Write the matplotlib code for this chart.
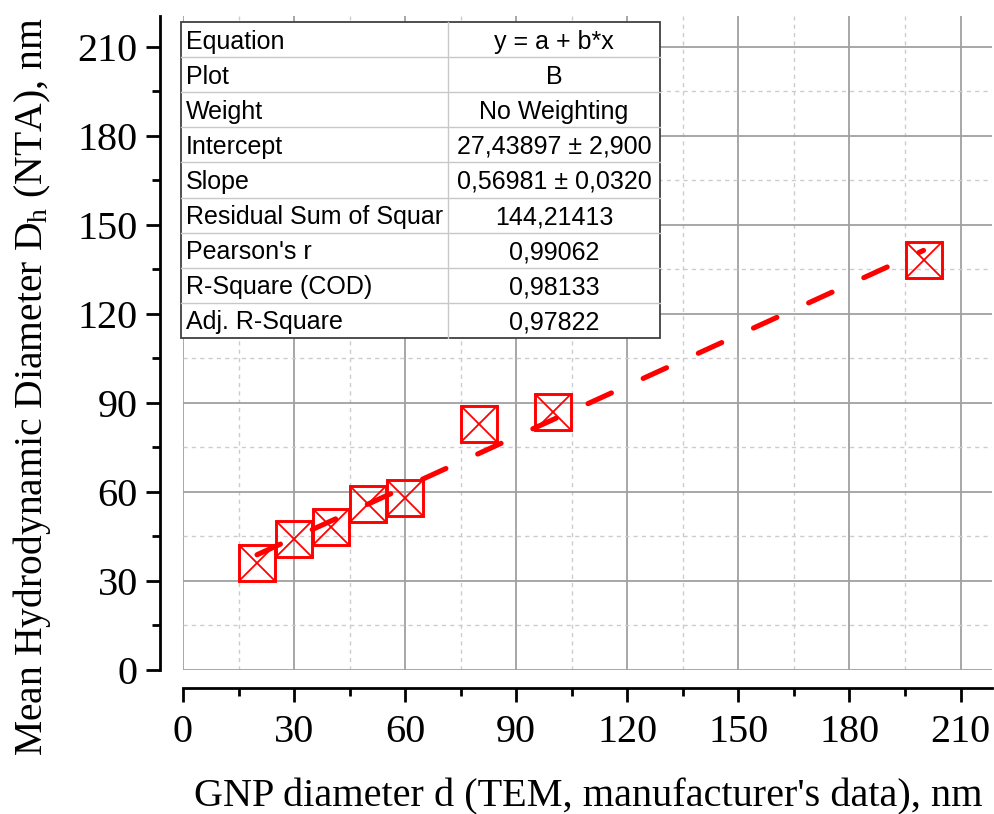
import numpy as np
import matplotlib
matplotlib.use("Agg")
import matplotlib.pyplot as plt
from matplotlib.patches import Rectangle
from matplotlib.ticker import MultipleLocator

# measured GNP sizes vs. NTA hydrodynamic diameter
tem_d = [20, 30, 40, 50, 60, 80, 100, 200]
nta_dh = [36.2, 44.2, 48.2, 56.0, 58.1, 83.0, 87.1, 138.2]

# linear fit results
intercept = 27.43897
slope = 0.56981

fit_rows = ["Equation", "Plot", "Weight", "Intercept", "Slope",
            "Residual Sum of Squar", "Pearson's r", "R-Square (COD)",
            "Adj. R-Square"]
fit_vals = ["y = a + b*x", "B", "No Weighting", "27,43897 \u00b1 2,900",
            "0,56981 \u00b1 0,0320", "144,21413", "0,99062", "0,98133",
            "0,97822"]

plt.rcParams['font.family'] = 'Liberation Serif'
plt.rcParams['mathtext.fontset'] = 'custom'
plt.rcParams['mathtext.rm'] = 'Liberation Serif'
plt.rcParams['mathtext.it'] = 'Liberation Serif:italic'

fig = plt.figure(figsize=(9.94, 8.14), dpi=100)
ax = fig.add_axes([183/994, 1-670/814, 809/994, 654/814])

ax.set_xlim(0, 218.5)
ax.set_ylim(0, 220.4)

# fit line over the data range
fx = np.array([min(tem_d), max(tem_d)])
line, = ax.plot(fx, intercept + slope*fx, color='#ff0000', lw=3.7,
                solid_capstyle='round', dash_capstyle='round', zorder=4)
line.set_dashes((5, 6.8))

ax.plot(tem_d, nta_dh, ls='none', marker='s', ms=25.5, mfc='none',
        mec='#ff0000', mew=2.1, zorder=3)
ax.plot(tem_d, nta_dh, ls='none', marker='x', ms=25.5,
        mec='#ff0000', mew=1.3, zorder=3)

ax.xaxis.set_major_locator(MultipleLocator(30))
ax.xaxis.set_minor_locator(MultipleLocator(15))
ax.yaxis.set_major_locator(MultipleLocator(30))
ax.yaxis.set_minor_locator(MultipleLocator(15))

ax.set_axisbelow(True)
ax.grid(which='major', color='#a0a0a0', lw=1.3, ls='-')
ax.grid(which='minor', color='#cccccc', lw=1.0, ls=(0, (3, 3)))

for s in ['top', 'right']:
    ax.spines[s].set_visible(False)
ax.spines['left'].set_position(('outward', 16.5))
ax.spines['bottom'].set_position(('outward', 13))
ax.spines['left'].set_linewidth(2)
ax.spines['bottom'].set_linewidth(2)

ax.tick_params(which='major', direction='out', length=10, width=2,
               labelsize=29, pad=6)
ax.tick_params(which='minor', direction='out', length=6, width=2)
ax.tick_params(axis='x', which='major', pad=9)

ax.set_xlabel("GNP diameter d (TEM, manufacturer's data), nm", fontsize=29,
              ha='right', va='baseline')
ax.xaxis.set_label_coords((983-183)/809, (670-806)/654)
ax.set_ylabel("Mean Hydrodynamic Diameter D$_\\mathrm{h}$ (NTA), nm",
              fontsize=28.5, ha='left', va='baseline')
ax.yaxis.set_label_coords((42-183)/809, (670-756)/654)

# fit summary table
tx0, tx1, tmid = 181/994, 660/994, 448/994
ty0, ty1 = 1-22/814, 1-338/814
rh = (ty0 - ty1) / len(fit_rows)
fig.patches.append(Rectangle((tx0, ty1), tx1-tx0, ty0-ty1,
                             transform=fig.transFigure, facecolor='white',
                             edgecolor='#404040', lw=1.3, zorder=10))
for i in range(1, len(fit_rows)):
    y = ty0 - i*rh
    fig.add_artist(plt.Line2D([tx0, tx1], [y, y], color='#c8c8c8', lw=1.0,
                              zorder=11))
fig.add_artist(plt.Line2D([tmid, tmid], [ty1, ty0], color='#c8c8c8', lw=1.0,
                          zorder=11))
for i, (k, v) in enumerate(zip(fit_rows, fit_vals)):
    yc = ty0 - (i + 0.5)*rh - 2/814
    fig.text(tx0 + 5/994, yc, k, ha='left', va='center', fontsize=18,
             family='Liberation Sans', zorder=12)
    fig.text((tmid + tx1)/2, yc, v, ha='center', va='center', fontsize=18,
             family='Liberation Sans', zorder=12)

fig.savefig("out.png", dpi=100)
